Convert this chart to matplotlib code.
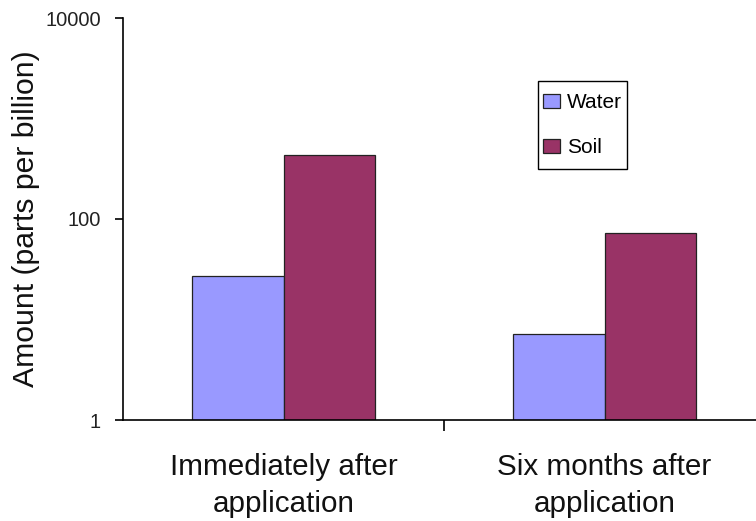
import numpy as np
import matplotlib
matplotlib.use("Agg")
from matplotlib import pyplot as plt
from matplotlib.patches import Rectangle

plt.rcParams["font.family"] = ["Liberation Sans", "DejaVu Sans"]

categories = ["Immediately after\napplication", "Six months after\napplication"]
water = [27, 7.1]
soil = [430, 72]

fig = plt.figure(figsize=(7.56, 5.21), dpi=100)
ax = fig.add_axes([123/756, 101/521, 642/756, 402/521])

x = np.arange(len(categories))
w = 0.285
ax.bar(x - w/2, water, width=w, color="#9999FF", edgecolor="#222222", linewidth=0.9, label="Water", zorder=2)
ax.bar(x + w/2, soil, width=w, color="#993366", edgecolor="#222222", linewidth=0.9, label="Soil", zorder=2)

ax.set_yscale("log")
ax.set_ylim(1, 10000)
ax.set_yticks([1, 100, 10000])
ax.set_yticklabels(["1", "100", "10000"])
ax.yaxis.set_minor_locator(matplotlib.ticker.NullLocator())
ax.set_xlim(-0.5, 1.5)
ax.set_xticks([0.5])
ax.set_xticklabels([""])
ax.tick_params(axis="x", length=8, width=1.2, direction="out")
ax.tick_params(axis="y", length=6, width=1.2, direction="out", labelsize=14.5, pad=10,
               labelcolor="#222222")
for s in ["top", "right"]:
    ax.spines[s].set_visible(False)
ax.spines["left"].set_linewidth(1.2)
ax.spines["bottom"].set_linewidth(1.2)

for i, c in enumerate(categories):
    ax.text(x[i], -0.082, c, transform=ax.get_xaxis_transform(), ha="center", va="top",
            fontsize=21.3, linespacing=1.4, color="#111111")

ax.set_ylabel("Amount (parts per billion)", fontsize=21.7, labelpad=4, color="#111111")

# legend without its own frame; box drawn around it with extra room above and below
leg = ax.legend(loc="upper left", bbox_to_anchor=(538/756, 1 - 88/521), bbox_transform=fig.transFigure,
                fontsize=15, frameon=False, handlelength=0.8, handleheight=0.7,
                handletextpad=0.35, labelspacing=1.25, borderpad=0.25, borderaxespad=0)
fig.canvas.draw()
bb = leg.get_window_extent()
extra = 7
fw, fh = fig.bbox.width, fig.bbox.height
box = Rectangle((bb.x0 / fw, (bb.y0 - extra) / fh), bb.width / fw, (bb.height + 2 * extra) / fh,
                transform=fig.transFigure, fill=False, edgecolor="black", linewidth=1.0, zorder=5)
fig.patches.append(box)

fig.savefig("out.png", dpi=100)
